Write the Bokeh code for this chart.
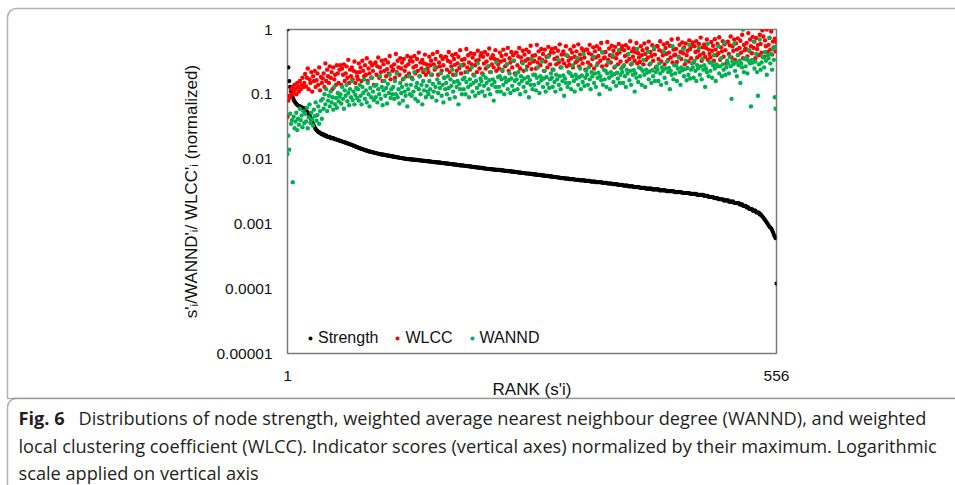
from bokeh.plotting import figure
from bokeh.models import Range1d, FixedTicker, Label, BoxAnnotation, GridBox
from bokeh.embed import file_html
from bokeh.resources import INLINE

# ---------------- data ----------------
strength = [
    1.0, .26, .16, .13, .11, .095, .089, .082, .078, .074, .071, .069, .067, .066, .065,
    .064, .063, .062, .061, .06, .058, .056, .054, .052, .05, .047, .044, .041, .038, .035,
    .033, .031, .029, .028, .027,
    .026, .026, .025, .025, .024, .024, .024, .023, .023, .023, .022, .022, .022, .022, .021,
    .021, .021, .021, .0205, .0203, .0201, .0199, .0197, .0195, .0193,
    .0191, .0189, .0187, .0185, .0183, .0181, .0179, .0177, .0175, .0173,
    .0171, .0169, .0167, .0165, .0163, .0161, .0159, .0157, .0155, .0153,
    .0151, .0149, .0147, .0145, .0144, .0142, .0141, .0139, .0138, .0136,
    .0135, .0134, .0132, .0131, .013, .0129, .0128, .0127, .0126, .0125,
    .0124, .0123, .0122, .0121, .012, .0119, .0118,
    .0118, .0117, .0117, .0116, .0115, .0115, .0114, .0113, .0113, .0112,
    .0111, .0111, .011, .0109, .0109, .0108, .0107, .0107, .0106, .0106,
    .0105, .0104, .0104, .0103, .0103, .0102, .0102, .0101, .0101, .01,
    .01, .01, .0099, .0099, .0099, .0098, .0098, .0098, .0097, .0097, .0097, .0096, .0096,
    .0096, .0095, .0095, .0095, .0094, .0094, .0094, .0093, .0093, .0093,
    .0092, .0092, .0092, .0091, .0091, .0091, .009, .009, .009, .0089,
    .0089, .0089, .0088, .0088, .0088, .0087, .0087, .0087, .0086, .0086,
    .0086, .0085, .0085, .0085, .0084, .0084, .0084, .0083, .0083, .0083,
    .0082, .0082, .0082, .0081, .0081, .0081, .008, .008, .008, .008,
    .0079, .0079, .0079, .0078, .0078, .0078, .0077, .0077, .0077, .0076,
    .0076, .0076, .0075, .0075, .0075, .0074, .0074, .0074, .0074, .0073,
    .0073, .0073, .0072, .0072, .0072, .0071, .0071, .0071, .0071, .007,
    .007, .007, .007, .0069, .0069, .0069, .0069, .0068, .0068, .0068,
    .0068, .0068, .0067,
    .0067, .0067, .0067, .0066, .0066, .0066, .0066, .0065, .0065, .0065,
    .0065, .0064, .0064, .0064, .0064, .0063, .0063, .0063, .0063, .0062,
    .0062, .0062, .0062, .0061, .0061, .0061, .0061, .006, .006, .006,
    .006, .006, .0059, .0059, .0059, .0059, .0058, .0058, .0058, .0058,
    .0057, .0057, .0057, .0057, .0057, .0056, .0056, .0056, .0056, .0055,
    .0055, .0055, .0055, .0055, .0054, .0054, .0054, .0054, .0053, .0053,
    .0053, .0053, .0053, .0052, .0052, .0052, .0052, .0051, .0051, .0051,
    .0051, .0051, .005, .005, .005, .005, .005, .0049, .0049, .0049,
    .0049, .0049, .0049, .0048, .0048, .0048, .0048, .0048, .0048, .0047,
    .0047, .0047, .0047, .0047, .0047, .0046, .0046, .0046, .0046, .0046,
    .0046, .0045, .0045, .0045, .0045, .0045, .0045, .0044, .0044, .0044,
    .0044, .0044, .0044,
    .0044, .0043, .0043, .0043, .0043, .0043, .0043, .0042, .0042, .0042,
    .0042, .0042, .0042, .0041, .0041, .0041, .0041, .0041, .0041, .004,
    .004, .004, .004, .004, .004, .0039, .0039, .0039, .0039, .0039,
    .0039, .0038, .0038, .0038, .0038, .0038, .0038, .0037, .0037, .0037,
    .0037, .0037, .0037, .0037, .0036, .0036, .0036, .0036, .0036, .0036,
    .0036, .0035, .0035, .0035, .0035, .0035, .0035, .0035, .0034, .0034,
    .0034, .0034, .0034, .0034, .0034, .0034, .0033, .0033, .0033, .0033,
    .0033, .0033, .0033, .0033, .0032, .0032, .0032, .0032, .0032, .0032,
    .0032, .0032, .0032, .0031, .0031, .0031, .0031, .0031, .0031, .0031,
    .0031, .0031, .003, .003, .003, .003, .003, .003, .003, .003,
    .003, .0029, .0029, .0029, .0029, .0029, .0029, .0029, .0029, .0028,
    .0028, .0028, .0028, .0028,
    .0028, .0028, .0028, .0027, .0027, .0027, .0027, .0027, .0026, .0026,
    .0026, .0026, .0026, .0026, .0025, .0025, .0025, .0025, .0025, .0024,
    .0024, .0024, .0024, .0024, .0024, .0023, .0023, .0023, .0023, .0023,
    .0023, .0022, .0022, .0022, .0022, .0022, .0022, .0021, .0021, .0021,
    .0021, .0021, .0021, .002, .002,
    .002, .002, .0019, .0019, .0019, .0019, .0018, .0018, .0018, .0017,
    .0017, .0017, .0017, .0016, .0016, .0016, .0016, .0015, .0015, .0015,
    .0015, .0014, .0014,
    .00135, .0013, .00125, .0012, .00115, .0011, .00105, .001, .00095, .0009, .00088,
    .00085, .0008, .00074, .00068, .00064, .0006,
    .00012,
]

wlcc = [
    .045, .08, .095, .09, .12, .1, .13, .11, .14, .12, .1, .15, .13, .11, .16, .12, .14, .18, .13, .15,
    .206, .132, .18, .25, .12, .17, .15, .22, .11, .19, .16, .23, .13, .165, .21, .14, .26, .115, .185, .15,
    .175, .21, .13, .3, .16, .24, .19, .15, .27, .18, .22, .12, .26, .17, .2, .14, .28, .21, .15, .24,
    .28, .14, .25, .2, .29, .16, .21, .27, .18, .34, .15, .24, .19, .26, .17, .23, .32, .15, .22, .19,
    .17, .3, .22, .26, .16, .33, .23, .19, .28, .2, .36, .16, .25, .21, .31, .18, .28, .23, .14, .3,
    .31, .2, .27, .37, .18, .26, .22, .33, .16, .29, .23, .34, .19, .245, .31, .21, .39, .17, .27, .23,
    .24, .29, .18, .42, .22, .33, .26, .2, .36, .25, .31, .17, .35, .23, .27, .19, .39, .29, .21, .33,
    .37, .18, .32, .26, .39, .21, .275, .35, .23, .44, .19, .31, .25, .34, .22, .3, .41, .2, .29, .25,
    .22, .38, .28, .33, .2, .42, .29, .24, .35, .26, .45, .2, .31, .27, .39, .23, .35, .28, .18, .38,
    .375, .24, .33, .45, .22, .315, .27, .4, .2, .35, .285, .42, .23, .3, .38, .255, .48, .21, .34, .28,
    .29, .35, .22, .5, .26, .4, .31, .24, .43, .29, .37, .2, .42, .28, .33, .22, .47, .34, .25, .39,
    .43, .21, .38, .3, .45, .25, .32, .41, .27, .51, .22, .36, .29, .4, .26, .35, .48, .23, .34, .29,
    .25, .44, .32, .39, .23, .49, .335, .27, .41, .29, .52, .23, .36, .31, .45, .26, .4, .33, .21, .44,
    .44, .28, .385, .52, .25, .37, .315, .47, .23, .41, .33, .49, .27, .35, .45, .3, .56, .245, .39, .32,
    .33, .4, .25, .58, .31, .46, .36, .28, .5, .34, .42, .23, .49, .32, .38, .26, .54, .4, .29, .45,
    .5, .24, .44, .35, .52, .29, .37, .47, .31, .59, .26, .41, .34, .46, .3, .41, .55, .27, .39, .33,
    .285, .49, .36, .44, .26, .55, .38, .31, .46, .33, .59, .27, .41, .35, .51, .3, .46, .37, .24, .49,
    .49, .31, .43, .58, .28, .41, .35, .53, .25, .46, .37, .55, .3, .39, .5, .33, .62, .27, .44, .36,
    .37, .45, .28, .64, .34, .51, .4, .31, .56, .38, .47, .26, .54, .36, .42, .29, .6, .44, .32, .5,
    .55, .27, .48, .39, .57, .32, .41, .52, .35, .66, .29, .46, .38, .51, .33, .45, .62, .3, .43, .37,
    .315, .55, .4, .48, .29, .61, .42, .34, .51, .37, .65, .29, .45, .39, .57, .33, .5, .41, .26, .55,
    .55, .35, .48, .66, .32, .46, .4, .59, .29, .52, .42, .62, .34, .44, .56, .37, .7, .31, .49, .4,
    .41, .5, .315, .72, .38, .58, .45, .35, .63, .43, .53, .29, .61, .4, .47, .32, .68, .5, .36, .56,
    .63, .31, .55, .45, .66, .37, .47, .6, .4, .75, .33, .53, .43, .59, .38, .52, .7, .34, .49, .42,
    .37, .64, .47, .56, .33, .71, .49, .4, .6, .43, .76, .34, .53, .46, .66, .38, .59, .48, .3, .64,
    .65, .42, .57, .78, .37, .55, .47, .7, .34, .61, .49, .73, .41, .52, .67, .44, .83, .36, .58, .48,
    .51, .62, .385, .88, .47, .7, .55, .43, .77, .52, .65, .36, .74, .5, .58, .4, .83, .6, .44, .97,
    .78, .38, .68, .55, 1.0, .45, .58, .74, .49, .93, .41, .65, .53, .72, .46, .64,
]

wannd = [
    .012, .023, .014, .05, .035, .04, .0044, .045, .03, .038, .052, .028, .042, .034, .06, .04, .047, .031, .055, .036,
    .05, .038, .062, .03, .044, .07, .036, .052, .041, .033, .058, .046, .075, .039, .048, .065, .035, .055, .08, .042,
    .085, .06, .1, .07, .12, .055, .08, .095, .065, .11, .075, .09, .058, .13, .07, .088, .062, .105, .078, .092,
    .1, .072, .13, .085, .06, .115, .095, .14, .078, .105, .068, .12, .09, .16, .082, .11, .07, .098, .125, .088,
    .12, .08, .14, .095, .07, .13, .105, .17, .085, .115, .075, .15, .1, .065, .125, .09, .18, .11, .082, .135,
    .09, .14, .075, .12, .1, .19, .085, .13, .068, .115, .16, .095, .125, .072, .145, .105, .2, .088, .12, .1,
    .13, .085, .16, .1, .21, .09, .12, .072, .15, .105, .13, .08, .175, .11, .095, .14, .065, .12, .19, .1,
    .14, .095, .17, .11, .22, .085, .13, .15, .078, .12, .19, .1, .14, .07, .16, .115, .24, .09, .135, .11,
    .1, .16, .12, .2, .09, .145, .11, .26, .13, .08, .17, .105, .15, .125, .21, .095, .14, .075, .18, .12,
    .15, .1, .19, .125, .085, .17, .135, .24, .11, .155, .09, .2, .13, .16, .07, .145, .12, .28, .1, .17,
    .12, .18, .1, .155, .22, .13, .09, .17, .14, .26, .11, .15, .195, .095, .16, .125, .3, .105, .14, .175,
    .16, .11, .2, .135, .095, .18, .15, .27, .12, .165, .1, .22, .14, .17, .08, .155, .13, .31, .11, .185,
    .13, .19, .11, .17, .24, .14, .1, .18, .155, .29, .12, .165, .21, .105, .175, .135, .33, .115, .16, .2,
    .17, .12, .22, .145, .1, .19, .16, .3, .13, .175, .11, .24, .15, .185, .09, .165, .14, .35, .12, .2,
    .14, .2, .115, .18, .26, .15, .105, .19, .165, .32, .13, .175, .23, .11, .185, .145, .38, .125, .17, .21,
    .18, .13, .24, .155, .11, .2, .17, .34, .14, .19, .12, .26, .16, .195, .095, .175, .15, .4, .13, .22,
    .15, .21, .12, .19, .28, .16, .11, .2, .175, .36, .14, .185, .25, .12, .195, .155, .42, .135, .18, .23,
    .2, .14, .26, .17, .12, .22, .19, .38, .15, .21, .13, .28, .18, .215, .1, .19, .165, .45, .14, .24,
    .17, .23, .13, .21, .31, .18, .12, .22, .195, .4, .155, .205, .27, .135, .215, .175, .48, .15, .2, .25,
    .22, .15, .28, .19, .13, .24, .21, .42, .165, .23, .14, .3, .2, .235, .11, .21, .18, .5, .155, .26,
    .19, .25, .14, .23, .34, .2, .13, .24, .215, .45, .17, .225, .3, .15, .235, .19, .52, .16, .22, .27,
    .24, .16, .3, .21, .14, .26, .23, .46, .18, .25, .15, .32, .22, .255, .12, .23, .2, .55, .17, .28,
    .21, .28, .16, .25, .37, .22, .14, .26, .235, .5, .19, .245, .33, .165, .255, .2, .58, .175, .24, .3,
    .26, .18, .33, .23, .16, .28, .25, .52, .2, .27, .17, .35, .24, .28, .13, .25, .22, .6, .19, .31,
    .23, .31, .18, .28, .4, .25, .16, .29, .27, .55, .21, .27, .36, .19, .29, .24, .62, .2, .26, .33,
    .3, .21, .38, .27, .085, .32, .29, .6, .23, .31, .19, .4, .28, .33, .15, .3, .26, 1.0, .22, .35,
    .27, .36, .21, .33, .48, .3, .065, .34, .31, .65, .25, .32, .42, .22, .095, .29, .7, .24, .31, .38,
    .37, .26, .45, .33, .2, .4, .36, .75, .3, .42, .24, .5, .34, .09, .06, .55,
]

series_names = ["Strength", "WLCC", "WANND"]
series_colors = ["#000000", "#ff0000", "#00b050"]

x_ticks = [1, 556]
x_tick_labels = ["1", "556"]
y_ticks = [0.00001, 0.0001, 0.001, 0.01, 0.1, 1]
y_tick_labels = ["0.00001", "0.0001", "0.001", "0.01", "0.1", "1"]

x_title = "RANK (s'i)"
y_title = "s'\u1d62/WANND'\u1d62/ WLCC'\u1d62 (normalized)"
caption_bold = "Fig. 6"
caption_lines = [
    "Distributions of node strength, weighted average nearest neighbour degree (WANND), and weighted",
    "local clustering coefficient (WLCC). Indicator scores (vertical axes) normalized by their maximum. Logarithmic",
    "scale applied on vertical axis",
]

W, H = 955, 485
CHART_FONT = "Liberation Sans"
CAP_FONT = "Open Sans"
CAP_SIZE = "18.2px"

# ---------------- chart ----------------
p = figure(width=W, height=H, output_backend="svg", toolbar_location=None,
           title=None, x_range=Range1d(1, 556), y_range=Range1d(1e-5, 1),
           y_axis_type="log",
           min_border_left=287, min_border_right=179,
           min_border_top=29, min_border_bottom=132)
p.frame_align = False

p.background_fill_color = "white"
p.border_fill_color = "white"
p.outline_line_color = "#7a7a7a"
p.outline_line_width = 1.5
p.grid.visible = False

all_series = [strength, wlcc, wannd]
sizes = [4.2, 4.4, 4.4]
for name, vals, col, sz in zip(series_names, all_series, series_colors, sizes):
    ranks = list(range(1, len(vals) + 1))
    p.scatter(ranks, vals, size=sz, color=col, line_width=0, legend_label=name)

for ax in (p.xaxis[0], p.yaxis[0]):
    ax.axis_line_color = None
    ax.major_tick_line_color = None
    ax.minor_tick_line_color = None
    ax.major_label_text_font = CHART_FONT
    ax.major_label_text_font_size = "15.5px"
    ax.major_label_text_color = "#111111"
    ax.axis_label_text_font = CHART_FONT
    ax.axis_label_text_font_size = "17px"
    ax.axis_label_text_font_style = "normal"
    ax.axis_label_text_color = "#111111"

p.xaxis.ticker = FixedTicker(ticks=x_ticks)
p.xaxis.major_label_overrides = dict(zip(x_ticks, x_tick_labels))
p.xaxis.major_label_standoff = 11
p.xaxis.axis_label = x_title
p.xaxis.axis_label_standoff = -4

p.yaxis.ticker = FixedTicker(ticks=y_ticks)
p.yaxis.major_label_overrides = dict(zip(y_ticks, y_tick_labels))
p.yaxis.major_label_standoff = 9
p.yaxis.axis_label = y_title
p.yaxis.axis_label_standoff = 12

leg = p.legend[0]
leg.orientation = "horizontal"
leg.location = (18, 6)
leg.border_line_color = None
leg.background_fill_alpha = 0
leg.label_text_font = CHART_FONT
leg.label_text_font_size = "16px"
leg.label_text_color = "#111111"
leg.glyph_width = 10
leg.glyph_height = 16
leg.label_height = 16
leg.label_standoff = 3
leg.spacing = 14
leg.padding = 0
leg.margin = 0

# ---------------- overlay figure: panel borders and caption (pixel space) ----------------
d = figure(width=W, height=H, output_backend="svg", toolbar_location=None,
           title=None, x_range=Range1d(0, W), y_range=Range1d(H, 0),
           x_axis_type=None, y_axis_type=None,
           min_border=0, min_border_left=0, min_border_right=0,
           min_border_top=0, min_border_bottom=0)
d.frame_align = False
d.background_fill_color = None
d.border_fill_color = None
d.outline_line_color = None
d.grid.visible = False

upper = BoxAnnotation(left=7, right=W + 40, top=8, bottom=398,
                      fill_alpha=0, line_color="#000000", line_width=1.5,
                      border_radius=(9, 0, 0, 0))
cap_box = BoxAnnotation(left=7, right=W + 40, top=398, bottom=H + 60,
                        fill_color="white", fill_alpha=1, line_color="#000000",
                        line_width=1.5, border_radius=(9, 0, 0, 0))
d.add_layout(upper)
d.add_layout(cap_box)

d.add_layout(Label(x=18, y=417, text=caption_bold, text_font=CAP_FONT,
                   text_font_style="bold", text_font_size=CAP_SIZE,
                   text_color="#231f20", text_baseline="middle"))
line_x = [78, 18, 18]
line_y = [417, 445, 472]
for txt, lx, ly in zip(caption_lines, line_x, line_y):
    d.add_layout(Label(x=lx, y=ly, text=txt, text_font=CAP_FONT,
                       text_font_size=CAP_SIZE, text_color="#231f20",
                       text_baseline="middle"))

layout = GridBox(children=[(p, 0, 0), (d, 0, 0)])
open("out.html", "w").write(file_html(layout, INLINE))
